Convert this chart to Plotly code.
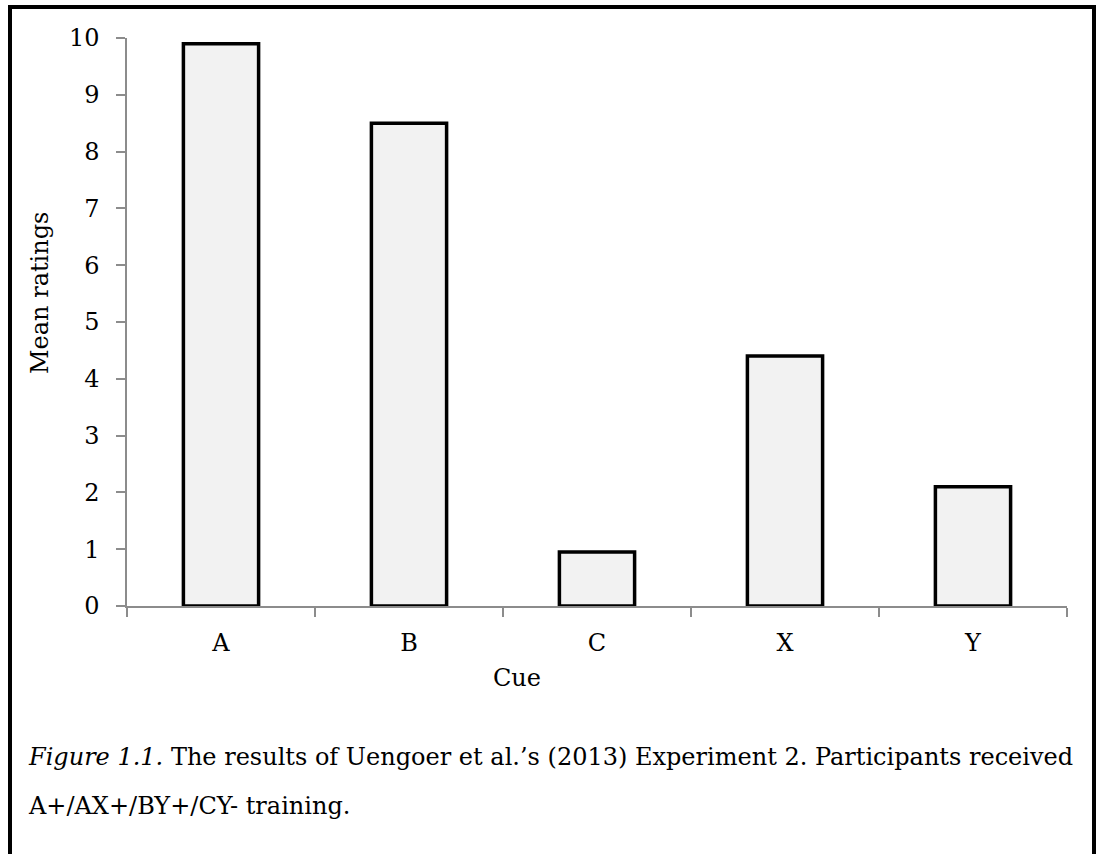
import plotly.graph_objects as go

cues = ["A", "B", "C", "X", "Y"]
mean_ratings = [9.9, 8.5, 0.95, 4.4, 2.1]
y_ticks = [0, 1, 2, 3, 4, 5, 6, 7, 8, 9, 10]

W, H = 1098, 854
L, R, T, B = 127, 31, 38, 248
PW, PH = W - L - R, H - T - B

def px(xs):
    return (xs - L) / PW

def py(ys):
    return (H - B - ys) / PH

FONT = "DejaVu Serif"
FS = 24
AX = "#8c8c8c"

fig = go.Figure(go.Bar(
    x=cues, y=mean_ratings, width=0.4,
    marker=dict(color="#f2f2f2", line=dict(color="black", width=3.5)),
))

fig.update_layout(
    width=W, height=H,
    margin=dict(l=L, r=R, t=T, b=B, autoexpand=False),
    paper_bgcolor="white", plot_bgcolor="white",
    showlegend=False,
    font=dict(family=FONT, size=FS, color="black"),
    xaxis=dict(showline=True, linecolor=AX, linewidth=1.5, ticks="outside",
               tickson="boundaries", ticklen=9, tickcolor=AX, tickwidth=1.5,
               showgrid=False, zeroline=False, ticklabelstandoff=14),
    yaxis=dict(range=[0, 10], tickvals=y_ticks, showline=True, linecolor=AX,
               linewidth=1.5, ticks="outside", ticklen=9, tickcolor=AX,
               tickwidth=1.5, showgrid=False, zeroline=False,
               ticklabelstandoff=12),
)

fig.add_shape(type="rect", xref="paper", yref="paper",
              x0=px(10), x1=px(1094), y0=py(7), y1=py(900),
              line=dict(color="black", width=4), fillcolor="rgba(0,0,0,0)",
              layer="above")

fig.add_annotation(text="Mean ratings", textangle=-90, xref="paper", yref="paper",
                   x=px(40), y=py(293), showarrow=False, xanchor="center", yanchor="middle",
                   font=dict(size=FS))
fig.add_annotation(text="Cue", xref="paper", yref="paper",
                   x=px(517), y=py(678), showarrow=False, xanchor="center", yanchor="middle",
                   font=dict(size=FS))
fig.add_annotation(text="<i>Figure 1.1.</i> The results of Uengoer et al.’s (2013) Experiment 2. Participants received",
                   xref="paper", yref="paper", x=px(26), y=py(757), showarrow=False,
                   xanchor="left", yanchor="middle", font=dict(size=FS))
fig.add_annotation(text="A+/AX+/BY+/CY- training.",
                   xref="paper", yref="paper", x=px(26), y=py(806), showarrow=False,
                   xanchor="left", yanchor="middle", font=dict(size=FS))

fig.write_html("out.html", config={"displayModeBar": False},
               post_script="document.body.style.margin='0px';document.body.style.overflow='hidden';")
